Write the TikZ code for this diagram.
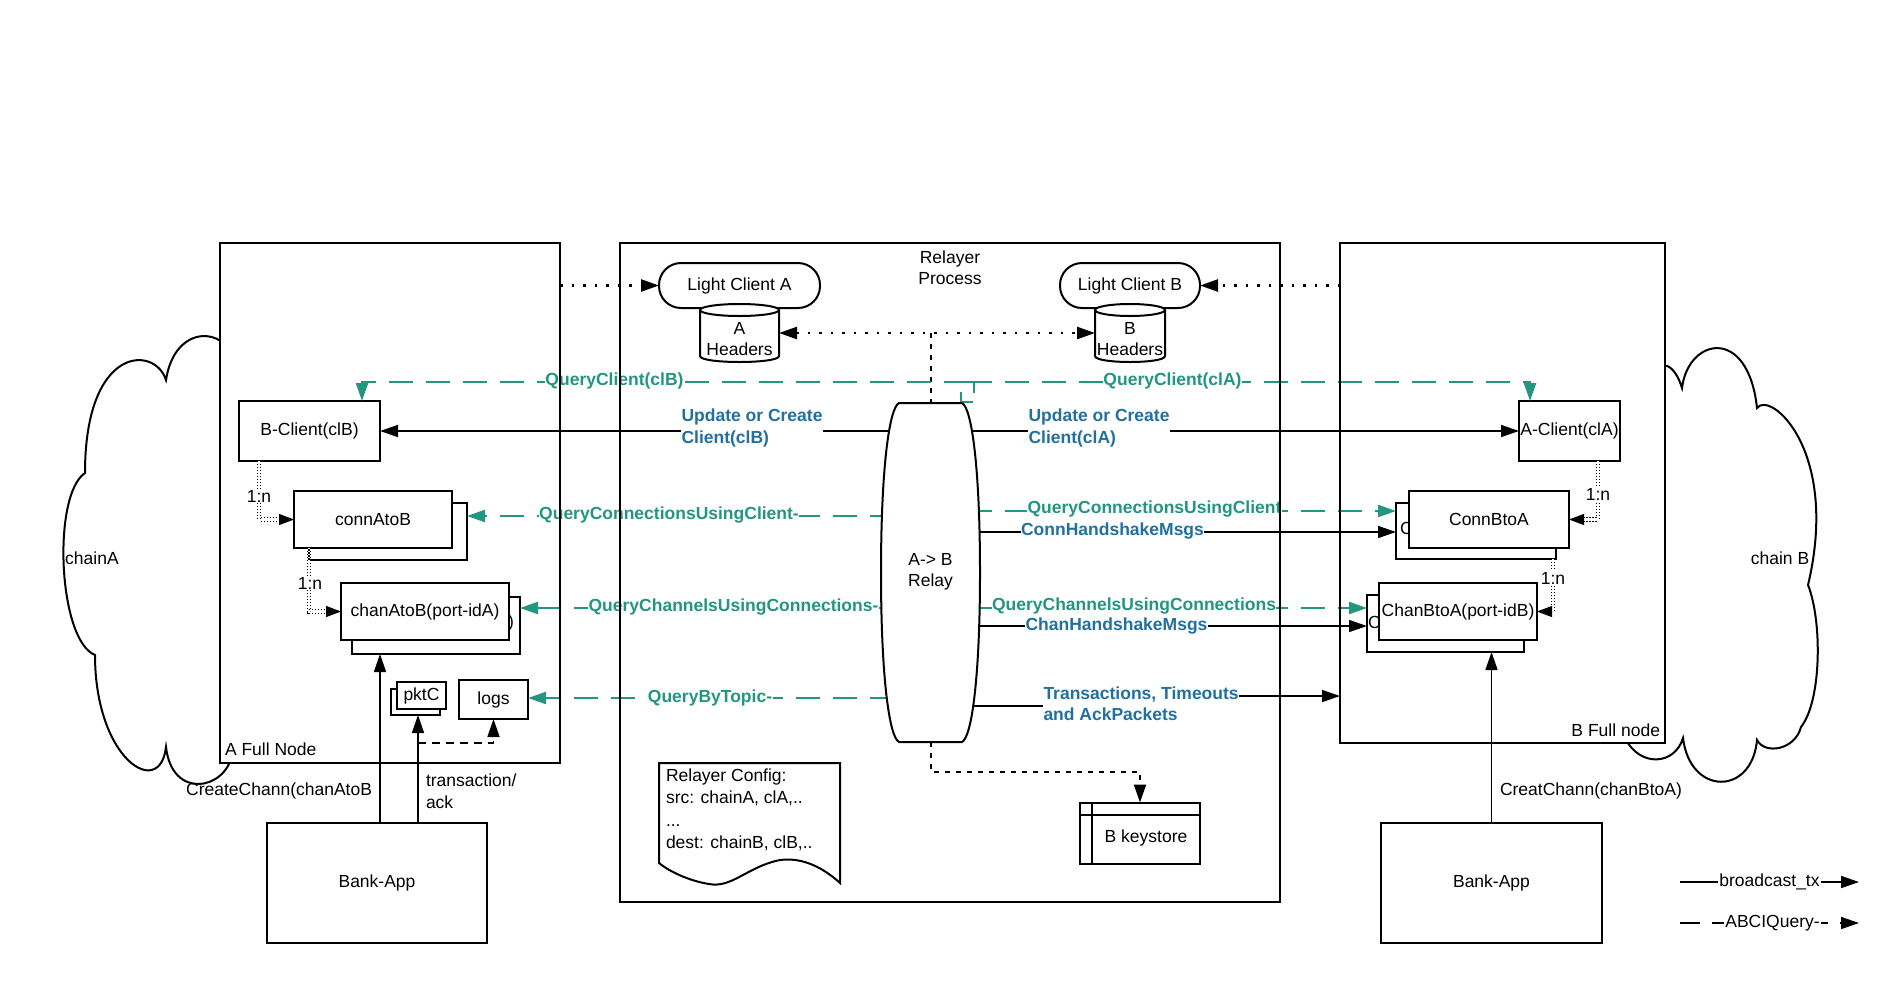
\documentclass[tikz,border=0pt]{standalone}
\usepackage{fontspec}
\setmainfont{Liberation Sans}
\usetikzlibrary{arrows.meta}
\definecolor{qgreen}{RGB}{34,150,128}
\definecolor{ublue}{RGB}{33,112,160}
\tikzset{
  bigbox/.style={rectangle, fill=white, draw=none, inner sep=0pt, outer sep=0pt},
  box/.style={rectangle, draw, line width=2pt, fill=white, inner sep=0pt, outer sep=0pt, align=center},
  ghost/.style={rectangle, draw=none, inner sep=0pt, outer sep=0pt},
  arrowtip/.style={-{Triangle[length=18pt,width=12pt]}},
  arr/.style={line width=1.5pt, arrowtip},
  qarr/.style={qgreen, line width=2.2pt, dash pattern=on 24pt off 13pt, arrowtip},
  dotarr/.style={line width=2.5pt, dash pattern=on 2.5pt off 9pt, arrowtip},
  sdash/.style={line width=2pt, dash pattern=on 5pt off 6pt},
  tdash/.style={line width=1.8pt, dash pattern=on 8pt off 6pt},
  onen/.style={line width=1pt, double distance=2.4pt, dash pattern=on 1.4pt off 1.6pt, -{Triangle[length=15pt,width=11pt]}},
  qlbl/.style={text=qgreen, font=\bfseries\fontsize{17.5}{21.5}\selectfont, fill=white, inner sep=0.5pt},
  blbl/.style={text=ublue, font=\bfseries\fontsize{17.5}{21.5}\selectfont, fill=white, inner sep=0.5pt, align=left},
  lbl/.style={fill=white, inner sep=1pt},
  outline/.style={line width=2pt},
}
\begin{document}
\begin{tikzpicture}[x=1pt,y=-1pt,
  every node/.style={font=\fontsize{17.5}{21.5}\selectfont, inner sep=0pt, outer sep=0pt}]
\fill[white] (0,0) rectangle (1900,983);
\useasboundingbox (0,0) rectangle (1900,983);

% clouds
\draw[outline] (232,360) .. controls (228,328) and (175,322) .. (166,380)
  .. controls (155,345) and (85,345) .. (85,473)
  .. controls (52,495) and (58,640) .. (95,655)
  .. controls (95,760) and (160,800) .. (166,747)
  .. controls (172,800) and (225,790) .. (232,755) -- cycle;
\draw[outline] (1650,380) .. controls (1660,355) and (1675,365) .. (1682,388)
  .. controls (1688,338) and (1748,325) .. (1757,408)
  .. controls (1770,390) and (1840,450) .. (1808,585)
  .. controls (1822,620) and (1822,700) .. (1801,727)
  .. controls (1795,750) and (1765,755) .. (1757,740)
  .. controls (1752,796) and (1690,796) .. (1683,738)
  .. controls (1675,765) and (1640,768) .. (1625,738) -- cycle;
\node (chA) at (92,558) {chainA};
\node (chB) at (1780,558) {chain B};

% big boxes (fill)
\node[bigbox, minimum width=340pt, minimum height=520pt] (afull) at (390,503) {};
\node[bigbox, minimum width=660pt, minimum height=659pt] (relayer) at (950,572.5) {};
\node[bigbox, minimum width=325pt, minimum height=500pt] (bfull) at (1502.5,493) {};

\node[align=center] (relT) at (950,267.5) {Relayer\\Process};
\node[anchor=west] (afl) at (225,749) {A Full Node};
\node[anchor=east] (bfl) at (1660,730) {B Full node};

% light clients and header stores
\node[box, rounded corners=22pt, minimum width=161pt, minimum height=45pt] (lcA) at (739.5,285.5) {Light Client A};
\node[box, rounded corners=22pt, minimum width=140pt, minimum height=45pt] (lcB) at (1130,285.5) {Light Client B};
\node[ghost, minimum width=79pt, minimum height=58pt] (hdrA) at (739.5,333) {};
\node[ghost, minimum width=70pt, minimum height=58pt] (hdrB) at (1130,333) {};
\fill[white] (700,310) -- (700,356) .. controls (700,364) and (779,364) .. (779,356) -- (779,310) .. controls (779,302) and (700,302) .. (700,310) -- cycle;
\draw[outline] (700,310) -- (700,356) .. controls (700,364) and (779,364) .. (779,356) -- (779,310);
\draw[outline] (739.5,310) ellipse [x radius=39.5, y radius=6];
\fill[white] (1095,310) -- (1095,356) .. controls (1095,364) and (1165,364) .. (1165,356) -- (1165,310) .. controls (1165,302) and (1095,302) .. (1095,310) -- cycle;
\draw[outline] (1095,310) -- (1095,356) .. controls (1095,364) and (1165,364) .. (1165,356) -- (1165,310);
\draw[outline] (1130,310) ellipse [x radius=35, y radius=6];
\node[align=center] (hdrAt) at (739.5,339) {A\\Headers};
\node[align=center] (hdrBt) at (1130,339) {B\\Headers};

% chain A boxes
\node[box, minimum width=141pt, minimum height=60pt] (bclient) at (309.5,431) {B-Client(clB)};
\node[box, minimum width=158pt, minimum height=57pt] (connAb) at (388,531.5) {};
\node[box, minimum width=158pt, minimum height=57pt] (connAf) at (373,519.5) {connAtoB};
\node[box, minimum width=168pt, minimum height=57pt] (chanAb) at (436,625.5) {};
\node[anchor=west] (chanAbt) at (508,623) {)};
\node[box, minimum width=168pt, minimum height=57pt] (chanAf) at (425,611.5) {chanAtoB(port-idA)};
\node[box, minimum width=49pt, minimum height=26pt] (pktCb) at (415.5,702) {};
\node[box, minimum width=49pt, minimum height=27pt] (pktCf) at (421.5,695.5) {pktC};
\node[box, minimum width=69pt, minimum height=39pt] (logs) at (493.5,699.5) {logs};
\node[box, minimum width=220pt, minimum height=120pt] (bankA) at (377,883) {Bank-App};

% chain B boxes
\node[box, minimum width=101pt, minimum height=60pt] (aclient) at (1569.5,431) {A-Client(clA)};
\node[box, minimum width=160pt, minimum height=56pt] (connBb) at (1476,531) {};
\node[anchor=west] (connBbt) at (1400,528) {C};
\node[box, minimum width=160pt, minimum height=57pt] (connBf) at (1489,519.5) {ConnBtoA};
\node[box, minimum width=157pt, minimum height=57pt] (chanBb) at (1445.5,623.5) {};
\node[anchor=west] (chanBbt) at (1368,622) {C};
\node[box, minimum width=158pt, minimum height=57pt] (chanBf) at (1458,611.5) {ChanBtoA(port-idB)};
\node[box, minimum width=221pt, minimum height=120pt] (bankB) at (1491.5,883) {Bank-App};

% relayer inner items
\draw[outline, fill=white] (659,763) -- (840,763) -- (840,883) .. controls (815,860) and (790,856) .. (772,862) .. controls (745,870) and (730,888) .. (709,884) .. controls (690,881) and (670,872) .. (659,863) -- cycle;
\node[anchor=north west, align=left, font=\fontsize{17.5}{22.3}\selectfont] (cfg) at (666,769) {Relayer Config:\\src: chainA, clA,..\\...\\dest: chainB, clB,..};
\node[box, minimum width=120pt, minimum height=61pt] (ks) at (1140,833) {};
\draw[outline] ([xshift=12pt]ks.north west) -- ([xshift=12pt]ks.south west);
\draw[outline] ([yshift=-12pt]ks.north west) -- ([yshift=-12pt]ks.north east);
\node (kst) at (1146,838) {B keystore};

\node[ghost, minimum width=98pt, minimum height=339pt] (relay) at (930.5,572.5) {};

% coordinates on the relay
\coordinate (rU) at (930.5,431);
\coordinate (rQCl) at (930.5,516);
\coordinate (rQCr) at (930.5,511);
\coordinate (rCH) at (930.5,532);
\coordinate (rQH) at (930.5,608);
\coordinate (rHH) at (930.5,626);
\coordinate (rQT) at (930.5,698);
\coordinate (rT) at (930.5,706);
\coordinate (tj) at (1140,696);
\coordinate (qc) at (968,382);
\coordinate (qcb) at (362,0);
\coordinate (qca) at (1530,0);
\coordinate (hmid) at (930.5,333);
\coordinate (xa) at (380,0);
\coordinate (xb) at (418,0);
\coordinate (tbr) at (418,743);

% connectors
\draw[dotarr] (afull.east |- lcA) -- (lcA.west);
\draw[dotarr] (bfull.west |- lcB) -- (lcB.east);
\draw[line width=2.5pt, dash pattern=on 2.5pt off 9pt, {Triangle[length=18pt,width=12pt]}-{Triangle[length=18pt,width=12pt]}] (hdrA.east) -- (hdrB.west);
\draw[sdash] (hmid) -- (relay.north);
\draw[sdash, arrowtip] (relay.south) -- ++(0,30) -| (ks.north);

\draw[qarr] (qc) -| (bclient.north -| qcb);
\draw[qarr] (qc) -| (aclient.north -| qca);
\draw[qgreen, line width=2pt] (974,382) -- (974,393);
\draw[qgreen, line width=2pt] (961,392) -- (961,402) -- (973,402);

\draw[arr] (rU) -- (bclient.east);
\draw[arr] (rU) -- (aclient.west);
\draw[qarr] (rQCl) -- (connAb.east |- rQCl);
\draw[qarr] (rQCr) -- (connBb.west |- rQCr);
\draw[arr] (rCH) -- (connBb.west |- rCH);
\draw[qarr] (rQH) -- (chanAb.east |- rQH);
\draw[qarr] (rQH) -- (chanBb.west |- rQH);
\draw[arr] (rHH) -- (chanBb.west |- rHH);
\draw[qarr] (rQT) -- (logs.east |- rQT);
\draw[arr] (rT) -- (tj |- rT) -- (tj) -- (bfull.west |- tj);

\draw[onen] ([xshift=20pt]bclient.south west) |- (connAf.west);
\draw[onen] ([xshift=15pt]connAf.south west) |- (chanAf.west);
\draw[onen] ([xshift=-22pt]aclient.south east) |- (connBf.east);
\draw[onen] ([xshift=-3pt]connBb.south east) |- (chanBf.east);
\node[lbl] (n1) at (259,496) {1:n};
\node[lbl] (n2) at (310,583) {1:n};
\node[lbl] (n3) at (1598,494) {1:n};
\node[lbl] (n4) at (1553,578) {1:n};

\draw[arr] (bankA.north -| xa) -- (chanAb.south -| xa);
\draw[arr] (bankA.north -| xb) -- (pktCb.south -| xb);
\draw[tdash, arrowtip] (tbr) -| (logs.south);
\draw[arr] (bankB.north) -- (chanBb.south -| bankB.north);
\node[anchor=east] (ccA) at (372,791) {CreateChann(chanAtoB};
\node[anchor=west, align=left] (txl) at (426,791) {transaction/\\ack};
\node[anchor=west] (ccB) at (1500,791) {CreatChann(chanBtoA)};

% relay barrel
\draw[outline, fill=white] (899,403) -- (962,403)
  .. controls (972,408) and (980,470) .. (980,572.5)
  .. controls (980,675) and (972,737) .. (962,742) -- (899,742)
  .. controls (889,737) and (881,675) .. (881,572.5)
  .. controls (881,470) and (889,408) .. (899,403) -- cycle;
\node[align=center] (relayt) at (930.5,572) {A-> B\\Relay};

% connector labels
\node[qlbl] (lQCB) at (614.5,381) {QueryClient(clB)};
\node[qlbl] (lQCA) at (1172.5,381) {QueryClient(clA)};
\node[blbl, anchor=west] (lUB) at (681,428) {Update or Create\\Client(clB)};
\node[blbl, anchor=west] (lUA) at (1028,428) {Update or Create\\Client(clA)};
\node[qlbl] (lQConL) at (669,515) {QueryConnectionsUsingClient-};
\node[qlbl] (lQConR) at (1154.5,509) {QueryConnectionsUsingClient};
\node[blbl] (lCH) at (1112.5,531) {ConnHandshakeMsgs};
\node[qlbl] (lQChL) at (733.5,607) {QueryChannelsUsingConnections-};
\node[qlbl] (lQChR) at (1134,606) {QueryChannelsUsingConnections};
\node[blbl] (lHH) at (1116.5,626) {ChanHandshakeMsgs};
\node[qlbl] (lQT) at (710,698) {QueryByTopic-};
\node[blbl, anchor=west] (lT) at (1043,703.5) {Transactions, Timeouts\\and AckPackets};

% legend
\coordinate (l1a) at (1680,882);
\coordinate (l1b) at (1859,882);
\coordinate (l2a) at (1680,923);
\coordinate (l2b) at (1859,923);
\draw[arr] (l1a) -- (l1b);
\draw[arr, dash pattern=on 20pt off 12pt] (l2a) -- (l2b);
\node[lbl] (lg1) at (1769.5,882) {broadcast\_tx};
\node[lbl] (lg2) at (1772.5,923) {ABCIQuery-};

% big box outlines
\draw[outline] (afull.north west) rectangle (afull.south east);
\draw[outline] (relayer.north west) rectangle (relayer.south east);
\draw[outline] (bfull.north west) rectangle (bfull.south east);
\end{tikzpicture}
\end{document}
